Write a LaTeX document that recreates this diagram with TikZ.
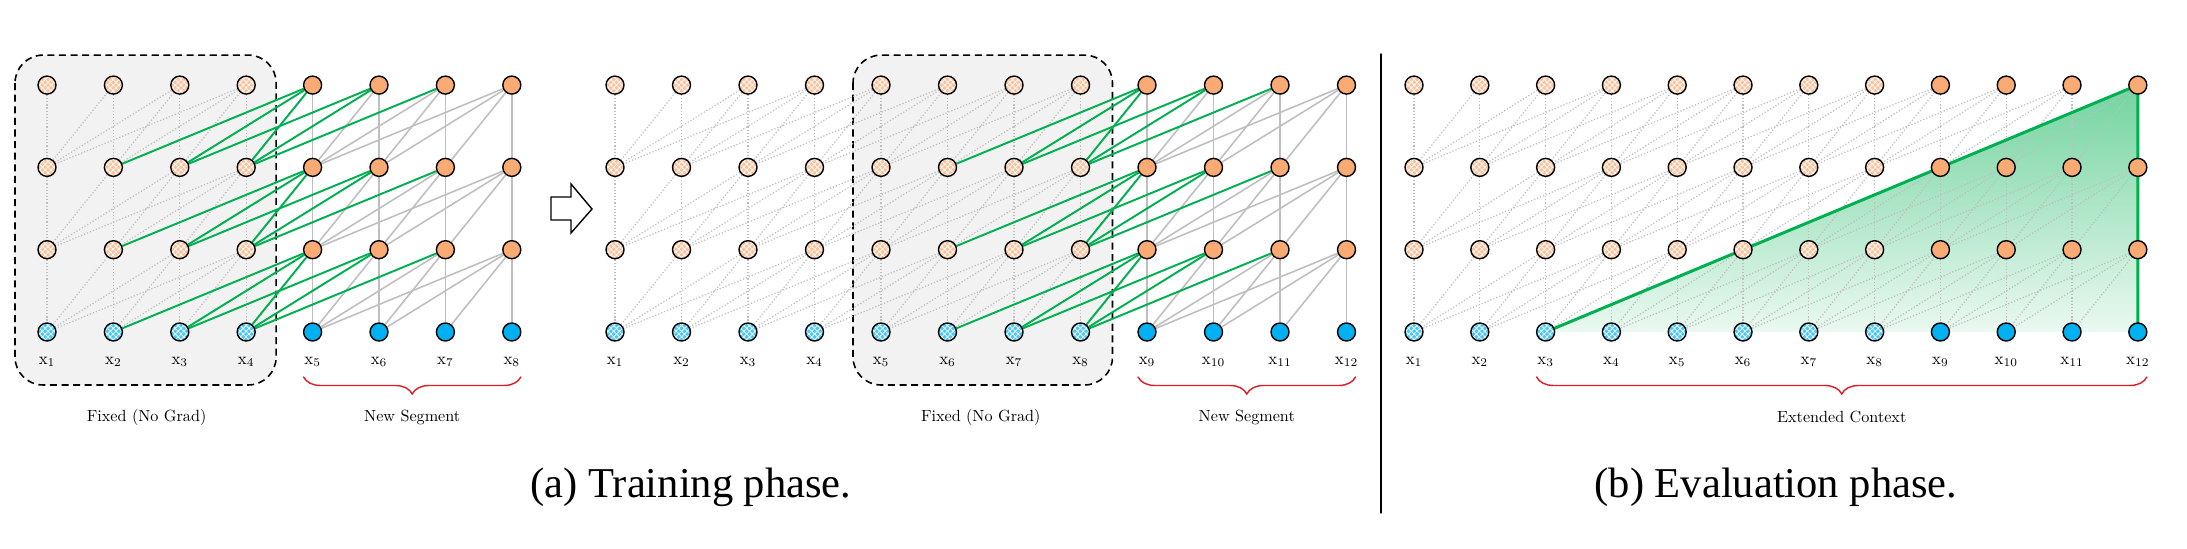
\documentclass[tikz,border=0pt]{standalone}
\usepackage{fontspec}
\newfontfamily\capfont{Liberation Serif}
\usetikzlibrary{calc,patterns.meta,decorations.pathreplacing}
\pgfdeclarelayer{bg}
\pgfdeclarelayer{edges}
\pgfsetlayers{bg,edges,main}
\definecolor{hidorange}{RGB}{250,170,115}
\definecolor{inpblue}{RGB}{0,176,240}
\definecolor{attgreen}{RGB}{0,176,80}
\definecolor{edgegray}{RGB}{191,191,191}
\definecolor{boxgray}{RGB}{242,242,242}
\definecolor{bracered}{RGB}{220,30,40}
\tikzset{
  cell/.style={circle,draw,line width=0.4pt,minimum size=1.8mm,inner sep=0pt},
  hid/.style={cell,fill=hidorange},
  hidc/.style={cell,preaction={fill=hidorange!70},pattern={Hatch[angle=45,distance=0.4mm,line width=0.07mm]},pattern color=white},
  inp/.style={cell,fill=inpblue},
  inpc/.style={cell,preaction={fill=inpblue!70},pattern={Hatch[angle=45,distance=0.4mm,line width=0.07mm]},pattern color=white},
  lnk/.style={edgegray,line width=0.45pt},
  lnkdot/.style={edgegray,line width=0.35pt,dash pattern=on 0.35pt off 0.55pt},
  lnkgrad/.style={attgreen,line width=0.55pt},
  ctxline/.style={attgreen,line width=0.85pt,line join=round},
  segbox/.style={draw,fill=boxgray,line width=0.45pt,dash pattern=on 2pt off 1.3pt,rounded corners=2.8mm},
  segbrace/.style={decorate,decoration={brace,mirror,amplitude=1.7mm},bracered,line width=0.4pt},
  tok/.style={scale=0.48},
  note/.style={scale=0.46},
  subcap/.style={font=\capfont\fontsize{12.1}{14}\selectfont,anchor=base},
}
% #1 name, #2 first x, #3 step, #4 tokens, #5 cached tokens, #6 last memory token
\newcommand{\tokpanel}[6]{%
  \foreach \i in {1,...,#4} {
    \pgfmathsetmacro\xx{#2+(\i-1)*#3}
    \ifnum\i>#5
      \node[inp] (#1-0-\i) at (\xx,332) {};
      \foreach \l in {1,2,3} {\node[hid] (#1-\l-\i) at (\xx,332-\l*82.3) {};}
    \else
      \node[inpc] (#1-0-\i) at (\xx,332) {};
      \foreach \l in {1,2,3} {\node[hidc] (#1-\l-\i) at (\xx,332-\l*82.3) {};}
    \fi
    \node[tok] (#1-x-\i) at (\xx,362) {$\mathrm{x}_{\i}$};
  }
  \begin{pgfonlayer}{edges}
    \foreach \l in {1,2,3} {
      \pgfmathtruncatemacro\k{\l-1}
      \foreach \i in {1,...,#4} {
        \pgfmathtruncatemacro\jlo{max(1,\i-3)}
        \foreach \j in {\jlo,...,\i} {
          \ifnum\i>#6
            \ifnum\j>#6 \draw[lnk] (#1-\l-\i) -- (#1-\k-\j);\fi
          \else
            \draw[lnkdot] (#1-\l-\i) -- (#1-\k-\j);
          \fi
        }
      }
    }
    % links reaching back into the memory
    \foreach \l in {1,2,3} {
      \pgfmathtruncatemacro\k{\l-1}
      \foreach \i in {1,...,#4} {
        \pgfmathtruncatemacro\jlo{max(1,\i-3)}
        \foreach \j in {\jlo,...,\i} {
          \ifnum\i>#6 \ifnum\j>#6 \else \draw[lnkgrad] (#1-\l-\i) -- (#1-\k-\j);\fi\fi
        }
      }
    }
  \end{pgfonlayer}
}
\begin{document}
\begin{tikzpicture}[x=0.1mm,y=-0.1mm,line cap=round]
  \useasboundingbox (0,0) rectangle (2187,549);
  % (a) training
  \tokpanel{A}{47}{66.4}{8}{4}{4}
  \tokpanel{B}{615}{66.5}{12}{8}{8}
  % (b) evaluation
  \tokpanel{C}{1414}{65.8}{12}{8}{12}
  \begin{pgfonlayer}{bg}
    \draw[segbox] ($(A-3-1)+(-32,-30)$) rectangle ($(A-0-4)+(30,53)$);
    \draw[segbox] ($(B-3-5)+(-28,-30)$) rectangle ($(B-0-8)+(32,53)$);
    \shade[top color=attgreen!55!white,bottom color=attgreen!8!white] (C-0-3.center) -- (C-3-12.center) -- (C-0-12.center) -- cycle;
  \end{pgfonlayer}
  \begin{pgfonlayer}{edges}
    \draw[ctxline] (C-0-3.center) -- (C-3-12.center) -- (C-0-12.center);
  \end{pgfonlayer}
  % braces and notes
  \draw[segbrace] ($(A-0-5)+(-9,45)$) -- ($(A-0-8)+(9,45)$);
  \draw[segbrace] ($(B-0-9)+(-9,45)$) -- ($(B-0-12)+(9,45)$);
  \draw[segbrace] ($(C-0-3)+(-9,45)$) -- ($(C-0-12)+(9,45)$);
  \node[note] (fixa) at ($(A-0-1)!0.5!(A-0-4)+(0,85)$) {Fixed (No Grad)};
  \node[note] (newa) at ($(A-0-5)!0.5!(A-0-8)+(0,85)$) {New Segment};
  \node[note] (fixb) at ($(B-0-5)!0.5!(B-0-8)+(0,85)$) {Fixed (No Grad)};
  \node[note] (newb) at ($(B-0-9)!0.5!(B-0-12)+(0,85)$) {New Segment};
  \node[note] (ctx) at ($(C-0-3)!0.5!(C-0-12)+(0,85)$) {Extended Context};
  % step arrow and divider
  \draw[line width=0.4pt,fill=white,line cap=butt] (551,197) -- (571,197) -- (571,184) -- (592,209) -- (571,233) -- (571,220) -- (551,220) -- cycle;
  \draw[line width=0.4pt] (1381,54) -- (1381,513);
  \node[subcap] (capa) at (691,498) {(a) Training phase.};
  \node[subcap] (capb) at (1776,498) {(b) Evaluation phase.};
\end{tikzpicture}
\end{document}
